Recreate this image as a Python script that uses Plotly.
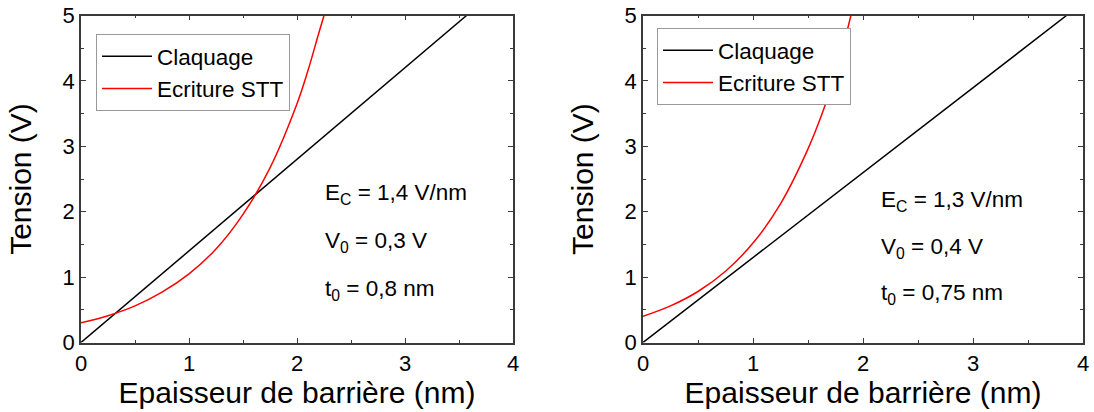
import plotly.graph_objects as go

# ---- data ----
# Left panel
left_claq_x = [0.0, 3.57]
left_claq_y = [0.0, 5.0]
left_stt_x = [0.0, 0.25, 0.5, 0.75, 1.0, 1.25, 1.5, 1.75, 2.0, 2.1, 2.2, 2.25]
left_stt_y = [0.30, 0.41, 0.56, 0.77, 1.05, 1.43, 1.96, 2.67, 3.65, 4.15, 4.72, 5.0]
left_params = ["E<sub>C</sub> = 1,4 V/nm", "V<sub>0</sub> = 0,3 V", "t<sub>0</sub> = 0,8 nm"]

# Right panel
right_claq_x = [0.0, 3.85]
right_claq_y = [0.0, 5.0]
right_stt_x = [0.0, 0.25, 0.5, 0.75, 1.0, 1.25, 1.5, 1.65, 1.75, 1.82, 1.89]
right_stt_y = [0.40, 0.56, 0.78, 1.09, 1.52, 2.12, 2.96, 3.60, 4.12, 4.53, 5.0]
right_params = ["E<sub>C</sub> = 1,3 V/nm", "V<sub>0</sub> = 0,4 V", "t<sub>0</sub> = 0,75 nm"]

x_ticks = [0, 1, 2, 3, 4]
y_ticks = [0, 1, 2, 3, 4, 5]
x_title = "Epaisseur de barrière (nm)"
y_title = "Tension (V)"
series_names = ["Claquage", "Ecriture STT"]

FONT = "Liberation Sans, Arial, sans-serif"
W, H = 1094, 412
fig = go.Figure()

fig.add_trace(go.Scatter(x=left_claq_x, y=left_claq_y, mode="lines", name=series_names[0],
                         line=dict(color="black", width=1.5), xaxis="x", yaxis="y", legend="legend"))
fig.add_trace(go.Scatter(x=left_stt_x, y=left_stt_y, mode="lines", name=series_names[1],
                         line=dict(color="#ff0000", width=1.5, shape="spline"), xaxis="x", yaxis="y", legend="legend"))
fig.add_trace(go.Scatter(x=right_claq_x, y=right_claq_y, mode="lines", name=series_names[0],
                         line=dict(color="black", width=1.5), xaxis="x2", yaxis="y2", legend="legend2"))
fig.add_trace(go.Scatter(x=right_stt_x, y=right_stt_y, mode="lines", name=series_names[1],
                         line=dict(color="#ff0000", width=1.5, shape="spline"), xaxis="x2", yaxis="y2", legend="legend2"))

AX = "#3a3a3a"

def xaxis(domain, anchor):
    return dict(domain=domain, anchor=anchor, range=[0, 4], tickvals=x_ticks,
                ticks="inside", ticklen=5, tickwidth=1.2, tickcolor=AX,
                minor=dict(ticks="inside", dtick=0.5, ticklen=3, tickcolor=AX, tickwidth=1.2),
                showline=True, linecolor=AX, linewidth=1.5, mirror="ticks",
                showgrid=False, zeroline=False, automargin=False,
                tickfont=dict(size=22, family=FONT, color="black"),
                title=dict(text=x_title, font=dict(size=30, family=FONT, color="black"), standoff=0))

def yaxis(domain, anchor):
    return dict(domain=domain, anchor=anchor, range=[0, 5], tickvals=y_ticks,
                ticks="inside", ticklen=5, tickwidth=1.2, tickcolor=AX,
                minor=dict(ticks="inside", dtick=0.5, ticklen=3, tickcolor=AX, tickwidth=1.2),
                showline=True, linecolor=AX, linewidth=1.5, mirror="ticks",
                showgrid=False, zeroline=False, automargin=False,
                tickfont=dict(size=22, family=FONT, color="black"),
                title=dict(text=y_title, font=dict(size=30, family=FONT, color="black"), standoff=22))

ydom = [1 - 342.5 / H, 1 - 15.5 / H]
fig.update_layout(
    width=W, height=H,
    margin=dict(l=0, r=0, t=0, b=0),
    paper_bgcolor="white", plot_bgcolor="white",
    xaxis=xaxis([81 / W, 513 / W], "y"),
    yaxis=yaxis(ydom, "x"),
    xaxis2=xaxis([643 / W, 1083 / W], "y2"),
    yaxis2=yaxis(ydom, "x2"),
    legend=dict(x=96 / W, y=1 - 34 / H, xanchor="left", yanchor="top",
                bordercolor="#999", borderwidth=1, bgcolor="white", itemwidth=50,
                font=dict(size=22.5, family=FONT, color="black"), tracegroupgap=0),
    legend2=dict(x=657 / W, y=1 - 28 / H, xanchor="left", yanchor="top",
                 bordercolor="#999", borderwidth=1, bgcolor="white", itemwidth=50,
                 font=dict(size=22.5, family=FONT, color="black"), tracegroupgap=0),
    showlegend=True,
)

# annotation anchor rows (pixel rows of text middles), converted to paper coordinates
left_rows = [194, 242, 290]
right_rows = [201, 248, 294]
for txt, yy in zip(left_params, left_rows):
    fig.add_annotation(x=323 / W, y=1 - yy / H, xref="paper", yref="paper", text=txt, showarrow=False,
                       xanchor="left", yanchor="middle", font=dict(size=22.5, family=FONT, color="black"))
for txt, yy in zip(right_params, right_rows):
    fig.add_annotation(x=879 / W, y=1 - yy / H, xref="paper", yref="paper", text=txt, showarrow=False,
                       xanchor="left", yanchor="middle", font=dict(size=22.5, family=FONT, color="black"))

fig.write_html("out.html", config={"displayModeBar": False},
               post_script="document.body.style.margin='0';document.body.style.overflow='hidden';")
